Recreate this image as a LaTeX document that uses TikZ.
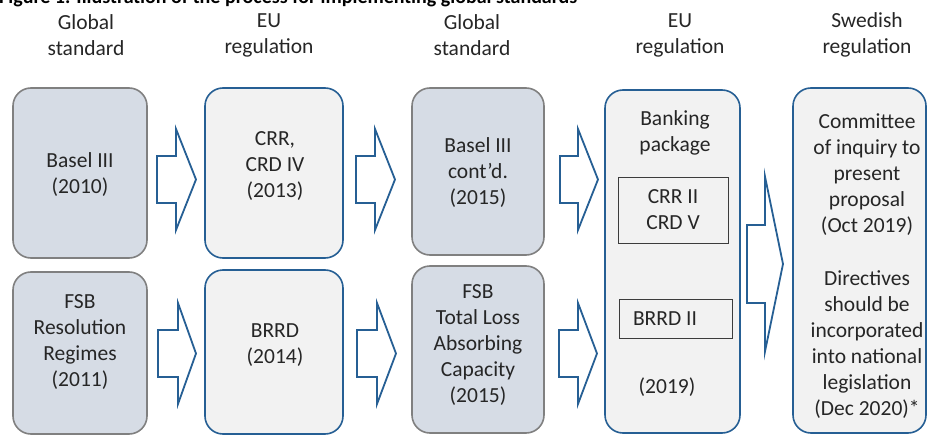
\documentclass[tikz,border=0pt]{standalone}
\usepackage{fontspec}
\setmainfont{Carlito}
\usepackage{xcolor}
\definecolor{regblue}{RGB}{38,95,148}
\definecolor{stdgray}{RGB}{128,128,128}
\definecolor{stdfill}{RGB}{214,220,229}
\definecolor{regfill}{RGB}{242,242,242}
\definecolor{txtcol}{RGB}{38,38,38}

% block arrow: tail x, neck x, tip x, mid y, half shaft, half head
\newcommand{\blockarrow}[6]{%
\draw[blkarrow] (#1,#4-#5)--(#2,#4-#5)--(#2,#4-#6)--(#3,#4)--(#2,#4+#6)--(#2,#4+#5)--(#1,#4+#5)--cycle;}

\begin{document}
\begin{tikzpicture}[x=1pt,y=-1pt,
  every node/.style={text=txtcol,font=\fontsize{21.5}{26}\selectfont,align=center,inner sep=0pt},
  gstd/.style={draw=stdgray,fill=stdfill,line width=1.6pt,rounded corners=18pt},
  eureg/.style={draw=regblue,fill=regfill,line width=1.6pt,rounded corners=18pt},
  inbox/.style={draw=txtcol!90,line width=1pt},
  blkarrow/.style={draw=regblue,fill=white,line width=1.8pt,line join=miter}]
\useasboundingbox (0,0) rectangle (927,436);

\node[anchor=base west,font=\bfseries\fontsize{20}{24}\selectfont,text=black] (title) at (-1,4)
  {Figure 1. Illustration of the process for implementing global standards};

\node (h1) at (86,35) {Global\\standard};
\node (h2) at (269,35) {EU\\regulation};
\node (h3) at (472,35) {Global\\standard};
\node (h4) at (680,35) {EU\\regulation};
\node (h5) at (867,35) {Swedish\\regulation};

% boxes
\node[gstd,minimum width=134pt,minimum height=170pt] (gs1) at (80,173) {};
\node[gstd,minimum width=134pt,minimum height=162pt] (gs2) at (80,353) {};
\node[eureg,minimum width=138pt,minimum height=170pt] (eu1) at (274,173) {};
\node[eureg,minimum width=138pt,minimum height=164pt] (eu2) at (274,352) {};
\node[gstd,minimum width=132pt,minimum height=167pt] (gs3) at (478,171.5) {};
\node[gstd,minimum width=132pt,minimum height=167pt] (gs4) at (478,349.5) {};
\node[eureg,minimum width=135pt,minimum height=343pt] (eu3) at (672.5,261.5) {};
\node[eureg,minimum width=133pt,minimum height=345pt] (sw) at (859.5,260.5) {};
\node[inbox,minimum width=110pt,minimum height=66pt] (crr) at (673,210) {};
\node[inbox,minimum width=113pt,minimum height=39pt] (brrd) at (675.5,318.5) {};

% texts
\node (t1) at (80,175) {Basel III\\(2010)};
\node (t2) at (80,342) {FSB\\Resolution\\Regimes\\(2011)};
\node (t3) at (275,166) {CRR,\\CRD IV\\(2013)};
\node (t4) at (275,345) {BRRD\\(2014)};
\node (t5) at (478,173) {Basel III\\cont’d.\\(2015)};
\node (t6) at (478,345) {FSB\\Total Loss\\Absorbing\\Capacity\\(2015)};
\node (t7) at (675,133) {Banking\\package};
\node (t8) at (crr.center) {CRR II\\CRD V};
\node (t9) at (665,319) {BRRD II};
\node (t10) at (667,387) {(2019)};
\node (t11) at (867,175) {Committee\\of inquiry to\\present\\proposal\\(Oct 2019)};
\node (t12) at (867,345) {Directives\\should be\\incorporated\\into national\\legislation\\(Dec 2020)*};

% arrows
\blockarrow{157}{176}{196}{179.5}{23.5}{50.5}
\blockarrow{356}{375}{395}{179.5}{23.5}{50.5}
\blockarrow{560}{578}{598}{179.5}{23.5}{50.5}
\blockarrow{158}{178}{196}{353.5}{23.5}{50.5}
\blockarrow{357}{377}{396}{353.5}{23.5}{50.5}
\blockarrow{559}{578}{597}{353.5}{23.5}{50.5}
\blockarrow{747}{765}{783}{264}{39}{87.5}
\end{tikzpicture}
\end{document}
